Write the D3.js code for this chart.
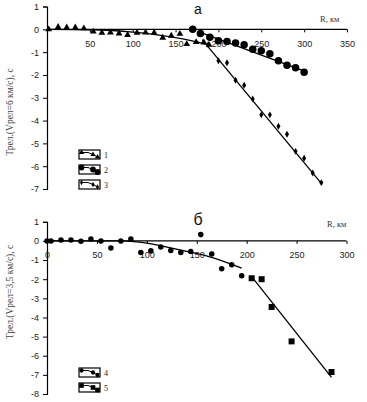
<!DOCTYPE html>
<html><head><meta charset="utf-8">
<script src="https://cdn.jsdelivr.net/npm/d3@7"></script>
<style>
html,body{margin:0;padding:0;background:#fff;}
svg{display:block;}
</style></head>
<body>
<svg id="chart" width="367" height="402"></svg>
<script>
// ---------- Data: panel а ----------
const xTicksA = [50,100,150,200,250,300,350];
const yTicksA = [1,0,-1,-2,-3,-4,-5,-6,-7];
const s1X = [2,13,23,33,43,54,64,74,84,94,105,115,125,135,145,155,163,174,183,189];
const s1Y = [0,0.1,0.08,0.08,0.04,-0.1,-0.15,-0.14,-0.18,-0.25,-0.15,-0.14,-0.15,-0.37,-0.28,-0.2,-0.65,-0.56,-0.58,-0.68];
const s2X = [170,179,190,200,210,220,230,240,250,260,270,280,290,300];
const s2Y = [0,-0.18,-0.35,-0.5,-0.53,-0.6,-0.68,-0.87,-0.94,-1.07,-1.38,-1.58,-1.68,-1.88];
const s3X = [188,200,210,220,230,240,250,260,270,280,290,300,310,320];
const s3Y = [-0.68,-1.38,-1.47,-2.23,-2.45,-3.05,-3.75,-3.75,-4.25,-4.6,-5.35,-5.65,-6.3,-6.72];
const t1X = [0,50,100,120,155,189];
const t1Y = [0,-0.02,-0.12,-0.2,-0.4,-0.68];
const t2X = [178,302];
const t2Y = [-0.12,-1.85];
const t3X = [181,321];
const t3Y = [-0.45,-6.8];
const legendA = ["1","2","3"];

// ---------- Data: panel б ----------
const xTicksB = [0,50,100,150,200,250,300];
const yTicksB = [1,0,-1,-2,-3,-4,-5,-6,-7,-8];
const s4X = [0,4,14,24,34,44,54,64,74,84,94,104,114,124,134,144,154,165,175,185,195];
const s4Y = [0,0,0.05,0.05,-0.02,0.1,0,-0.37,0,0.1,-0.6,-0.52,-0.32,-0.5,-0.6,-0.55,0.33,-0.68,-1.45,-1.25,-1.82];
const s5X = [205,215,225,245,285];
const s5Y = [-1.95,-2.0,-3.45,-5.25,-6.85];
const t4X = [0,75,103,133,163,195];
const t4Y = [0,0,-0.14,-0.47,-0.83,-1.42];
const t5X = [205,285];
const t5Y = [-1.87,-7.13];
const legendB = ["4","5"];

const svg = d3.select("#chart");
const SANS = "'Liberation Sans', Arial, sans-serif";
const SERIF = "'Liberation Serif', 'Times New Roman', serif";
const fmt = d => (d < 0 ? "-" + Math.abs(d) : String(d));

const zip = (xs, ys) => xs.map((x, i) => [x, ys[i]]);

function panel(cfg) {
  const g = svg.append("g");
  const x = d3.scaleLinear().domain(cfg.xDomain).range(cfg.xRange);
  const y = d3.scaleLinear().domain(cfg.yDomain).range(cfg.yRange);

  const ya = g.append("g").attr("transform", `translate(${x(0)},0)`)
    .call(d3.axisLeft(y).tickValues(cfg.yTicks).tickFormat(fmt).tickSize(4).tickPadding(4));
  const xa = g.append("g").attr("transform", `translate(0,${y(0)})`)
    .call(d3.axisBottom(x).tickValues(cfg.xTicks).tickFormat(fmt).tickSize(3).tickPadding(8));
  [ya, xa].forEach(a => {
    a.select(".domain").attr("stroke", "#000").attr("stroke-width", 1.2);
    a.selectAll(".tick line").attr("stroke", "#000");
    a.selectAll("text").attr("font-family", SANS).attr("font-size", 9).attr("fill", "#222");
  });
  xa.select(".domain").attr("d", `M${x(0)},0H${x(cfg.xDomain[1])}`);

  g.append("text").attr("x", cfg.titleX).attr("y", cfg.titleY)
    .attr("text-anchor", "middle").attr("font-family", SANS).attr("font-size", cfg.titleSize)
    .attr("fill", "#111").text(cfg.title);
  g.append("text").attr("x", cfg.rX).attr("y", cfg.rY)
    .attr("font-family", SERIF).attr("font-size", 8.5).attr("fill", "#333").text("R, км");
  g.append("text").attr("transform", `translate(${cfg.ylX},${cfg.ylY}) rotate(-90)`)
    .attr("text-anchor", "middle").attr("font-family", SERIF).attr("font-size", 9.5)
    .attr("fill", "#444").text(cfg.yLabel);

  const line = d3.line().x(d => x(d[0])).y(d => y(d[1]));
  cfg.trends.forEach(t => {
    g.append("path").datum(zip(t.xs, t.ys))
      .attr("d", line.curve(t.curve || d3.curveLinear))
      .attr("fill", "none").attr("stroke", "#000").attr("stroke-width", 1.3);
  });

  cfg.series.forEach(s => {
    g.append("g").selectAll("path").data(zip(s.xs, s.ys)).join("path")
      .attr("transform", d => `translate(${x(d[0])},${y(d[1])})`)
      .attr("d", d3.symbol().type(s.type).size(s.size))
      .attr("fill", "#000");
  });

  cfg.legend.forEach((lab, i) => {
    const s = cfg.series[cfg.legendSeries[i]];
    const lx = cfg.legX, ly = cfg.legY + i * cfg.legStep;
    const lg = g.append("g").attr("transform", `translate(${lx},${ly})`);
    lg.append("rect").attr("x", 0).attr("y", 0).attr("width", 21).attr("height", 9)
      .attr("fill", "#fff").attr("stroke", "#000").attr("stroke-width", 1.2);
    const pts = [[2.5,2.5],[9,2.5],[14,4.5],[18.5,7]];
    lg.append("path").attr("d", d3.line()(pts)).attr("fill", "none")
      .attr("stroke", "#000").attr("stroke-width", 1);
    lg.selectAll("path.m").data([pts[0], pts[2], pts[3]]).join("path").attr("class", "m")
      .attr("transform", d => `translate(${d[0]},${d[1]})`)
      .attr("d", d3.symbol().type(s.type).size(s.size * 0.6)).attr("fill", "#000");
    g.append("text").attr("x", lx + 25).attr("y", ly + 8)
      .attr("font-family", SERIF).attr("font-size", 8).attr("fill", "#222").text(lab);
  });
}

panel({
  xDomain: [0, 350], xRange: [47, 347],
  yDomain: [-7, 1], yRange: [189, 6.5],
  xTicks: xTicksA, yTicks: yTicksA,
  title: "а", titleX: 198, titleY: 13.5, titleSize: 14,
  rX: 320, rY: 22,
  ylX: 13, ylY: 112, yLabel: "Трел.(Vрел=6 км/с), с",
  trends: [
    {xs: t1X, ys: t1Y, curve: d3.curveMonotoneX},
    {xs: t2X, ys: t2Y},
    {xs: t3X, ys: t3Y}
  ],
  series: [
    {xs: s1X, ys: s1Y, type: d3.symbolTriangle, size: 20},
    {xs: s2X, ys: s2Y, type: d3.symbolCircle, size: 44},
    {xs: s3X, ys: s3Y, type: d3.symbolDiamond, size: 14}
  ],
  legend: legendA, legendSeries: [0, 1, 2],
  legX: 79, legY: 150, legStep: 15
});

panel({
  xDomain: [0, 300], xRange: [47, 346.5],
  yDomain: [-8, 1], yRange: [394, 221.8],
  xTicks: xTicksB, yTicks: yTicksB,
  title: "б", titleX: 198, titleY: 225, titleSize: 16,
  rX: 327, rY: 227,
  ylX: 13, ylY: 292, yLabel: "Трел.(Vрел=3,5 км/с), с",
  trends: [
    {xs: t4X, ys: t4Y, curve: d3.curveMonotoneX},
    {xs: t5X, ys: t5Y}
  ],
  series: [
    {xs: s4X, ys: s4Y, type: d3.symbolCircle, size: 24},
    {xs: s5X, ys: s5Y, type: d3.symbolSquare, size: 36}
  ],
  legend: legendB, legendSeries: [0, 1],
  legX: 79, legY: 368, legStep: 15
});
</script>
</body></html>
